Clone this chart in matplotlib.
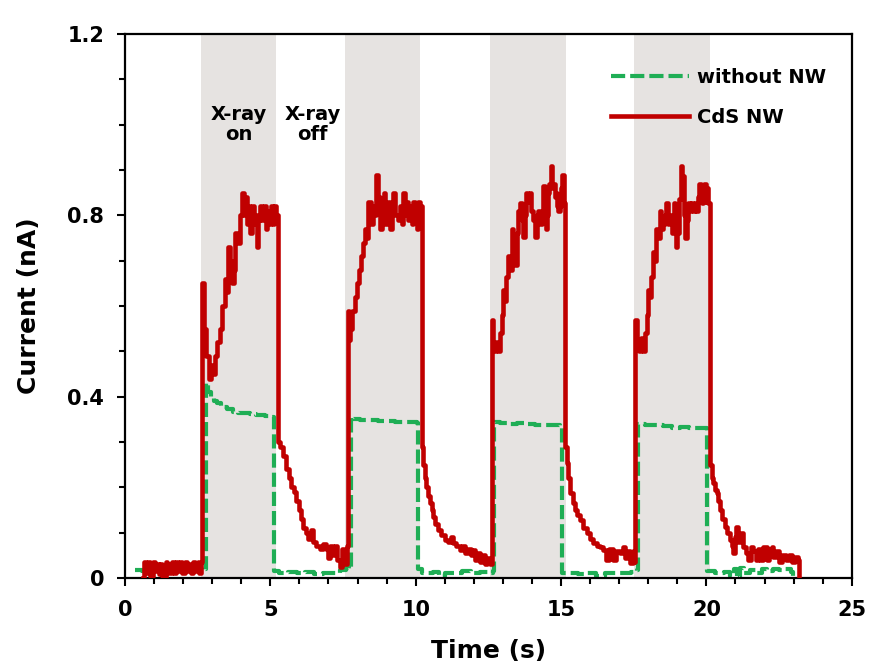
import matplotlib
matplotlib.use('Agg')
import matplotlib.pyplot as plt
from matplotlib.ticker import MultipleLocator, FuncFormatter

plt.rcParams['font.family'] = ['DejaVu Sans']
plt.rcParams['font.weight'] = 'bold'

# X-ray on windows (s)
xray_on = [(2.62, 5.20), (7.58, 10.16), (12.56, 15.17), (17.52, 20.14)]

# CdS NW photocurrent (nA)
cds_t = [0.63, 0.66, 0.72, 0.80, 0.87, 0.95, 1.02, 1.10, 1.16, 1.20, 1.28, 1.35, 1.40, 1.45, 1.52, 1.60,
         1.67, 1.75, 1.82, 1.90, 1.97, 2.05, 2.12, 2.20, 2.27, 2.35, 2.42, 2.50, 2.56, 2.62,
         2.66, 2.72, 2.79, 2.88, 2.95, 3.02, 3.09, 3.18, 3.27, 3.35, 3.44, 3.50, 3.54, 3.62, 3.68, 3.74,
         3.80, 3.88, 3.95, 4.02, 4.08, 4.14, 4.19, 4.25, 4.30, 4.36, 4.42, 4.48, 4.53, 4.59, 4.65, 4.72,
         4.78, 4.84, 4.90, 4.96, 5.02, 5.08, 5.14, 5.20,
         5.25, 5.33, 5.45, 5.55, 5.64, 5.72, 5.80, 5.88, 5.97, 6.05, 6.14, 6.22, 6.31, 6.40, 6.48, 6.57,
         6.70, 6.80, 6.90, 7.00, 7.06, 7.15, 7.23, 7.30, 7.40, 7.48, 7.55, 7.62,
         7.66, 7.70, 7.75, 7.80, 7.90, 7.97, 8.05, 8.12, 8.20, 8.25, 8.31, 8.37, 8.45, 8.52, 8.60, 8.65,
         8.71, 8.77, 8.83, 8.90, 8.96, 9.03, 9.11, 9.17, 9.23, 9.30, 9.40, 9.47, 9.52, 9.57, 9.63, 9.70,
         9.74, 9.80, 9.86, 9.91, 9.97, 10.03, 10.09, 10.14,
         10.20, 10.26, 10.32, 10.37, 10.43, 10.49, 10.55, 10.60, 10.68, 10.77, 10.88, 11.00, 11.10, 11.20,
         11.29, 11.40, 11.52, 11.60, 11.70, 11.80, 11.90, 11.98, 12.04, 12.12, 12.20, 12.30, 12.38, 12.46,
         12.55,
         12.61, 12.67, 12.75, 12.83, 12.90, 12.96, 13.01, 13.07, 13.12, 13.18, 13.24, 13.30, 13.36, 13.41,
         13.47, 13.52, 13.58, 13.64, 13.70, 13.76, 13.81, 13.87, 13.93, 13.98, 14.04, 14.10, 14.16, 14.21,
         14.27, 14.33, 14.39, 14.44, 14.48, 14.52, 14.56, 14.60, 14.65, 14.69, 14.73, 14.78, 14.82, 14.86,
         14.90, 14.96, 15.00, 15.05, 15.10,
         15.15, 15.19, 15.25, 15.31, 15.40, 15.48, 15.56, 15.65, 15.76, 15.88, 16.00, 16.11, 16.22, 16.33,
         16.45, 16.55, 16.65, 16.78, 16.90, 17.03, 17.12, 17.20, 17.28, 17.38, 17.46, 17.52,
         17.56, 17.62, 17.68, 17.75, 17.82, 17.88, 17.94, 17.99, 18.05, 18.10, 18.16, 18.21, 18.27, 18.33,
         18.39, 18.44, 18.50, 18.56, 18.62, 18.68, 18.73, 18.80, 18.87, 18.92, 18.96, 19.00, 19.05, 19.11,
         19.15, 19.19, 19.24, 19.28, 19.32, 19.36, 19.42, 19.48, 19.53, 19.60, 19.65, 19.70, 19.74, 19.80,
         19.85, 19.90, 19.93, 19.97, 20.01, 20.07,
         20.13, 20.18, 20.23, 20.30, 20.35, 20.40, 20.46, 20.55, 20.63, 20.72, 20.81, 20.87, 20.92, 20.97,
         21.03, 21.10, 21.20, 21.26, 21.35, 21.43, 21.52, 21.61, 21.70, 21.78, 21.84, 21.95, 22.07, 22.15,
         22.24, 22.30, 22.40, 22.50, 22.60, 22.75, 22.85, 22.95, 23.05, 23.14, 23.17]
cds_i = [0.000, 0.035, 0.010, 0.035, 0.005, 0.035, 0.015, 0.030, 0.008, 0.030, 0.005, 0.000, 0.035, 0.030, 0.010, 0.035,
         0.010, 0.035, 0.015, 0.035, 0.010, 0.035, 0.015, 0.030, 0.010, 0.035, 0.015, 0.035, 0.012, 0.035,
         0.650, 0.550, 0.490, 0.440, 0.470, 0.450, 0.490, 0.520, 0.550, 0.600, 0.660, 0.630, 0.730, 0.700, 0.650, 0.680,
         0.760, 0.740, 0.800, 0.850, 0.800, 0.840, 0.780, 0.820, 0.760, 0.820, 0.780, 0.800, 0.730, 0.790, 0.820, 0.790,
         0.820, 0.770, 0.810, 0.780, 0.820, 0.780, 0.820, 0.800,
         0.300, 0.290, 0.270, 0.240, 0.220, 0.200, 0.190, 0.170, 0.150, 0.130, 0.110, 0.100, 0.085, 0.105, 0.080, 0.070,
         0.065, 0.075, 0.065, 0.045, 0.070, 0.050, 0.070, 0.040, 0.025, 0.065, 0.030, 0.070,
         0.590, 0.525, 0.550, 0.590, 0.620, 0.650, 0.680, 0.710, 0.740, 0.770, 0.750, 0.830, 0.780, 0.820, 0.800, 0.890,
         0.840, 0.770, 0.820, 0.850, 0.780, 0.830, 0.770, 0.820, 0.850, 0.800, 0.790, 0.820, 0.780, 0.850, 0.800, 0.830,
         0.790, 0.820, 0.780, 0.830, 0.800, 0.770, 0.830, 0.820,
         0.290, 0.250, 0.220, 0.200, 0.180, 0.165, 0.150, 0.135, 0.120, 0.105, 0.095, 0.084, 0.080, 0.090,
         0.077, 0.070, 0.062, 0.070, 0.055, 0.065, 0.050, 0.062, 0.040, 0.055, 0.035, 0.050, 0.030, 0.045,
         0.030,
         0.570, 0.500, 0.520, 0.500, 0.540, 0.580, 0.636, 0.610, 0.665, 0.710, 0.680, 0.770, 0.720, 0.690,
         0.760, 0.810, 0.827, 0.790, 0.753, 0.800, 0.850, 0.830, 0.850, 0.810, 0.790, 0.753, 0.800, 0.810,
         0.780, 0.800, 0.864, 0.820, 0.770, 0.800, 0.850, 0.870, 0.908, 0.860, 0.870, 0.840, 0.850, 0.820,
         0.810, 0.820, 0.860, 0.890, 0.827,
         0.290, 0.253, 0.220, 0.187, 0.165, 0.150, 0.140, 0.128, 0.110, 0.099, 0.085, 0.077, 0.070, 0.069,
         0.062, 0.040, 0.065, 0.040, 0.060, 0.055, 0.069, 0.045, 0.060, 0.033, 0.060, 0.035,
         0.570, 0.520, 0.500, 0.530, 0.500, 0.540, 0.580, 0.636, 0.620, 0.665, 0.720, 0.700, 0.770, 0.750,
         0.810, 0.770, 0.780, 0.800, 0.827, 0.780, 0.800, 0.760, 0.827, 0.780, 0.730, 0.760, 0.835, 0.908,
         0.870, 0.886, 0.800, 0.750, 0.790, 0.827, 0.810, 0.827, 0.810, 0.827, 0.810, 0.840, 0.870, 0.840,
         0.827, 0.860, 0.870, 0.830, 0.860, 0.827,
         0.250, 0.220, 0.209, 0.195, 0.187, 0.170, 0.150, 0.130, 0.113, 0.100, 0.084, 0.070, 0.055, 0.090,
         0.113, 0.080, 0.100, 0.069, 0.055, 0.040, 0.069, 0.060, 0.040, 0.065, 0.040, 0.069, 0.040, 0.065,
         0.069, 0.047, 0.060, 0.035, 0.050, 0.040, 0.050, 0.035, 0.047, 0.040, 0.000]

# device without nanowires (nA)
bare_t = [0.35, 0.60, 1.00, 1.50, 2.00, 2.50, 2.76,
          2.80, 2.86, 2.95, 3.05, 3.15, 3.30, 3.50, 3.70, 3.90, 4.07, 4.30, 4.50, 4.64, 4.80, 4.99, 5.08,
          5.12, 5.30, 5.60, 5.90, 6.20, 6.50, 6.80, 7.10, 7.40, 7.60, 7.72,
          7.76, 7.85, 8.10, 8.40, 8.70, 9.00, 9.30, 9.60, 9.90, 10.05,
          10.09, 10.20, 10.40, 10.60, 10.80, 11.00, 11.30, 11.60, 11.90, 12.20, 12.50, 12.66,
          12.69, 12.90, 13.20, 13.50, 13.80, 14.10, 14.40, 14.70, 14.95, 15.00,
          15.04, 15.30, 15.60, 15.90, 16.20, 16.50, 16.80, 17.10, 17.40, 17.62,
          17.65, 17.90, 18.20, 18.50, 18.80, 19.10, 19.40, 19.70, 19.98,
          20.02, 20.30, 20.60, 20.80, 20.95, 21.05, 21.15, 21.30, 21.50, 21.70, 21.90, 22.10, 22.30, 22.50,
          22.70, 22.90, 22.97]
bare_i = [0.018, 0.015, 0.018, 0.015, 0.018, 0.016, 0.020,
          0.430, 0.410, 0.400, 0.390, 0.385, 0.378, 0.372, 0.367, 0.365, 0.363, 0.362, 0.360, 0.360, 0.358, 0.356, 0.355,
          0.015, 0.012, 0.014, 0.010, 0.013, 0.008, 0.012, 0.010, 0.018, 0.022, 0.020,
          0.355, 0.350, 0.348, 0.349, 0.346, 0.347, 0.345, 0.345, 0.344, 0.343,
          0.020, 0.012, 0.010, 0.014, 0.004, 0.012, 0.010, 0.015, 0.010, 0.014, 0.012, 0.015,
          0.345, 0.341, 0.340, 0.341, 0.339, 0.338, 0.338, 0.337, 0.336, 0.333,
          0.012, 0.010, 0.008, 0.012, 0.004, 0.010, 0.012, 0.010, 0.014, 0.018,
          0.340, 0.338, 0.337, 0.335, 0.332, 0.334, 0.332, 0.331, 0.330,
          0.015, 0.012, 0.014, 0.004, 0.020, 0.000, 0.022, 0.010, 0.018, 0.012, 0.020, 0.015, 0.020, 0.018,
          0.020, 0.014, 0.000]

red = '#c00000'
green = '#1fae55'

fig = plt.figure(figsize=(8.7, 6.65), dpi=100)
ax = fig.add_axes([0.1437, 0.1308, 0.8353, 0.8181])

for t0, t1 in xray_on:
    ax.axvspan(t0, t1, color='#e6e3e1', lw=0, zorder=0)

ax.plot(bare_t, bare_i, color=green, lw=3.0, linestyle=(0, (3.4, 1.2)),
        drawstyle='steps-post', label='without NW', zorder=2)
ax.plot(cds_t, cds_i, color=red, lw=3.3, drawstyle='steps-post',
        label='CdS NW', zorder=3)

ax.text(3.9, 1.0, 'X-ray\non', ha='center', va='center', fontsize=14,
        fontweight='bold', linespacing=1.1)
ax.text(6.45, 1.0, 'X-ray\noff', ha='center', va='center', fontsize=14,
        fontweight='bold', linespacing=1.1)

ax.set_xlim(0, 25)
ax.set_ylim(0, 1.2)
ax.xaxis.set_major_locator(MultipleLocator(5))
ax.xaxis.set_minor_locator(MultipleLocator(1))
ax.yaxis.set_major_locator(MultipleLocator(0.4))
ax.yaxis.set_minor_locator(MultipleLocator(0.1))
ax.yaxis.set_major_formatter(FuncFormatter(lambda v, p: '0' if abs(v) < 1e-9 else f'{v:.1f}'))

ax.tick_params(which='major', direction='out', length=5.5, width=1.5, labelsize=15)
ax.tick_params(axis='x', which='major', pad=10)
ax.tick_params(axis='y', which='major', pad=9.5)
ax.tick_params(which='minor', direction='out', length=4.5, width=1.5)
for lab in ax.get_xticklabels() + ax.get_yticklabels():
    lab.set_fontweight('bold')
for s in ax.spines.values():
    s.set_linewidth(1.6)

ax.set_xlabel('Time (s)', fontsize=18, fontweight='bold', labelpad=14)
ax.set_ylabel('Current (nA)', fontsize=18, fontweight='bold', labelpad=19)

ax.legend(loc='upper left', bbox_to_anchor=(0.655, 0.955), frameon=False,
          handlelength=4.0, handletextpad=0.45, labelspacing=1.05,
          borderpad=0, prop={'weight': 'bold', 'size': 14})

fig.savefig('out.png', dpi=100, facecolor='white')
